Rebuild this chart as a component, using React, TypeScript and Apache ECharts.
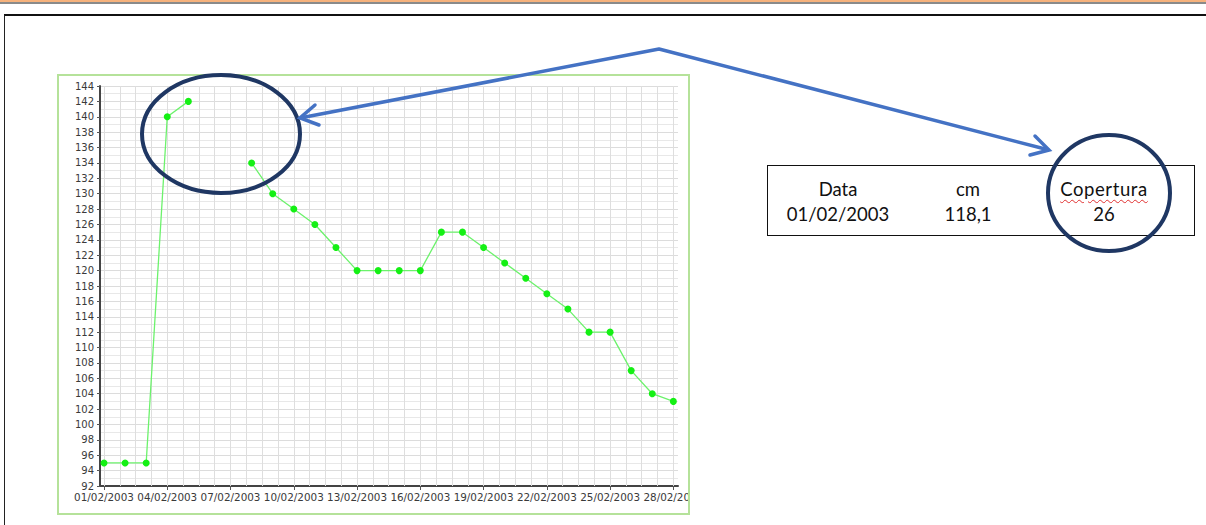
import React, { useEffect, useRef } from "react";
import * as echarts from "echarts";

// ---- data ----
const dayNumbers = [1, 2, 3, 4, 5, 6, 7, 8, 9, 10, 11, 12, 13, 14, 15, 16, 17, 18, 19, 20, 21, 22, 23, 24, 25, 26, 27, 28];
const snowCm: (number | null)[] = [95, 95, 95, 140, 142, null, null, 134, 130, 128, 126, 123, 120, 120, 120, 120, 125, 125, 123, 121, 119, 117, 115, 112, 112, 107, 104, 103];
const labelDays = [1, 4, 7, 10, 13, 16, 19, 22, 25, 28];
const monthYear = "/02/2003";
const yMin = 92;
const yMax = 144;
const yStep = 2;
const tableHeaders = ["Data", "cm", "Copertura"];
const tableValues = ["01/02/2003", "118,1", "26"];

const gridDays: number[] = [];
for (let k = 0; k <= 36; k++) gridDays.push(1 + 0.75 * k);

const pad2 = (n: number) => (n < 10 ? "0" + n : "" + n);

function Chart() {
  const ref = useRef<HTMLDivElement>(null);
  useEffect(() => {
    if (!ref.current) return;
    const chart = echarts.init(ref.current, null, { renderer: "svg" });
    chart.setOption({
      animation: false,
      backgroundColor: "#ffffff",
      grid: { left: 41, right: 10, top: 10, bottom: 27, containLabel: false, outerBoundsMode: "none" },
      xAxis: {
        type: "value",
        min: 0.81,
        max: 28.22,
        axisLine: { show: true, lineStyle: { color: "#444", width: 2 } },
        axisTick: { show: true, customValues: labelDays, length: 4, lineStyle: { color: "#555", width: 1 } },
        axisLabel: {
          customValues: labelDays,
          formatter: (v: number) => pad2(Math.round(v)) + monthYear,
          fontFamily: "DejaVu Sans",
          fontSize: 10.4,
          color: "#3a3a3a",
          margin: 6,
          hideOverlap: false,
        },
        splitLine: { show: false },
      },
      yAxis: {
        type: "value",
        min: yMin,
        max: yMax,
        interval: yStep,
        axisLine: { show: true, lineStyle: { color: "#444", width: 2 } },
        axisTick: { show: true, length: 3, lineStyle: { color: "#555" } },
        minorTick: { show: false, splitNumber: 2 },
        axisLabel: { fontFamily: "DejaVu Sans", fontSize: 10, color: "#3a3a3a", margin: 6 },
        splitLine: { show: true, lineStyle: { color: "#dcdcdc", width: 1 } },
        minorSplitLine: { show: true, lineStyle: { color: "#e8e8e8", width: 1 } },
      },
      series: [
        {
          type: "line",
          z: 1,
          data: [],
          silent: true,
          markLine: {
            silent: true,
            symbol: ["none", "none"],
            label: { show: false },
            lineStyle: { color: "#dedede", width: 1, type: "solid" },
            data: gridDays.map((d) => ({ xAxis: d })),
          },
        },
        {
          type: "line",
          z: 10,
          data: dayNumbers.map((d, i) => [d, snowCm[i] === null ? "-" : snowCm[i]]),
          connectNulls: false,
          symbol: "circle",
          symbolSize: 7,
          showSymbol: true,
          itemStyle: { color: "#14f014" },
          lineStyle: { color: "#6cf26c", width: 1.3 },
        },
      ],
    });
    return () => chart.dispose();
  }, []);
  return <div ref={ref} style={{ width: 629, height: 437 }} />;
}

function Overlay() {
  const ref = useRef<HTMLDivElement>(null);
  useEffect(() => {
    if (!ref.current) return;
    const chart = echarts.init(ref.current, null, { renderer: "svg" });
    const navy = "#1f3763";
    const blue = "#4472c4";
    chart.setOption({
      animation: false,
      graphic: [
        { type: "ellipse", shape: { cx: 221, cy: 134, rx: 79, ry: 59 }, style: { fill: "none", stroke: navy, lineWidth: 4 } },
        { type: "ellipse", shape: { cx: 1109, cy: 193, rx: 61, ry: 58 }, style: { fill: "none", stroke: navy, lineWidth: 4 } },
        { type: "polyline", shape: { points: [[300, 118], [659, 49], [1049, 150]] }, style: { fill: "none", stroke: blue, lineWidth: 3.5, lineJoin: "round" } },
        { type: "polyline", shape: { points: [[315, 105], [300, 118], [319, 125]] }, style: { fill: "none", stroke: blue, lineWidth: 3.5, lineJoin: "miter", lineCap: "round" } },
        { type: "polyline", shape: { points: [[1035, 136], [1049, 150], [1030, 155]] }, style: { fill: "none", stroke: blue, lineWidth: 3.5, lineJoin: "miter", lineCap: "round" } },
      ],
    });
    return () => chart.dispose();
  }, []);
  return (
    <div
      ref={ref}
      style={{ position: "absolute", left: 0, top: 0, width: 1206, height: 525, pointerEvents: "none", zIndex: 5 }}
    />
  );
}

const colCenters = [838, 968, 1104];

export default function App() {
  return (
    <div
      style={{
        position: "fixed",
        left: 0,
        top: 0,
        width: 1206,
        height: 525,
        background: "#ffffff",
        overflow: "hidden",
      }}
    >
      <div style={{ position: "absolute", left: 0, top: 0, width: 1206, height: 2, background: "#f6b27c" }} />
      <div style={{ position: "absolute", left: 0, top: 2, width: 1206, height: 1.5, background: "#8a8a8a" }} />
      <div
        style={{
          position: "absolute",
          left: 4,
          top: 14,
          width: 1400,
          height: 700,
          borderTop: "2px solid #111",
          borderLeft: "1.5px solid #222",
          boxSizing: "border-box",
        }}
      />
      <div
        style={{
          position: "absolute",
          left: 57,
          top: 74,
          width: 633,
          height: 441,
          border: "2px solid #b5e29a",
          boxSizing: "border-box",
          background: "#fff",
          overflow: "hidden",
        }}
      >
        <Chart />
      </div>
      <div
        style={{
          position: "absolute",
          left: 767,
          top: 165,
          width: 428,
          height: 71,
          border: "1px solid #111",
          boxSizing: "border-box",
        }}
      />
      {tableHeaders.map((h, i) => (
        <div
          key={"h" + i}
          style={{
            position: "absolute",
            left: colCenters[i] - 80,
            width: 160,
            top: 178.5,
            textAlign: "center",
            fontFamily: "Lato",
            fontSize: 18.5,
            lineHeight: "20px",
            color: "#111",
            letterSpacing: h === "Copertura" ? "0.6px" : "0px",
          }}
        >
          <span
            style={
              h === "Copertura"
                ? { textDecoration: "underline wavy #e03030", textDecorationThickness: "1px", textUnderlineOffset: "3px" }
                : {}
            }
          >
            {h}
          </span>
        </div>
      ))}
      {tableValues.map((v, i) => (
        <div
          key={"v" + i}
          style={{
            position: "absolute",
            left: colCenters[i] - 80,
            width: 160,
            top: 204,
            textAlign: "center",
            fontFamily: "Lato",
            fontSize: 18.5,
            lineHeight: "20px",
            color: "#111",
          }}
        >
          {v}
        </div>
      ))}
      <Overlay />
    </div>
  );
}
